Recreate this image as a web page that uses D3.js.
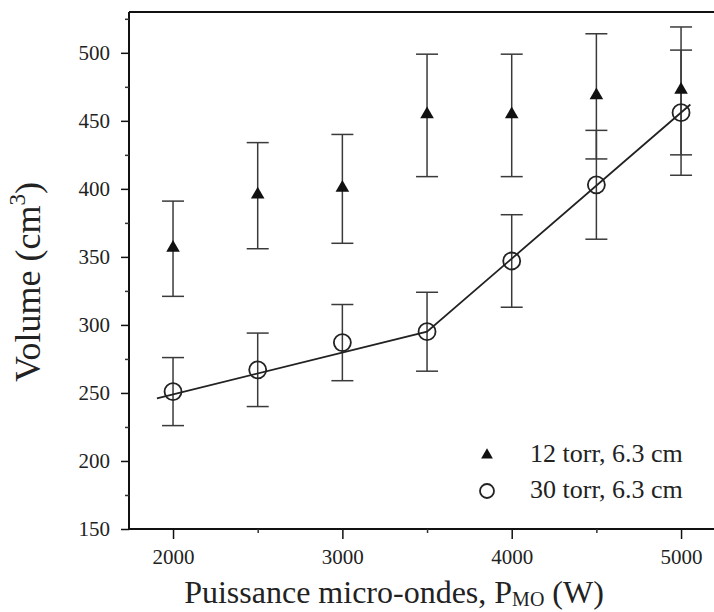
<!DOCTYPE html>
<html>
<head>
<meta charset="utf-8">
<script src="https://cdn.jsdelivr.net/npm/d3@7"></script>
<style>
  html, body { margin: 0; padding: 0; background: #fff; }
  svg text { font-family: "Liberation Serif", "Times New Roman", "DejaVu Serif", serif !important; }
</style>
</head>
<body>
<svg id="chart" width="714" height="612"></svg>
<script>
// ---- data ----
const powers = [2000, 2500, 3000, 3500, 4000, 4500, 5000];
const vol12 = [356, 395, 400, 454, 454, 468, 472];
const err12 = [35, 39, 40, 45, 45, 46, 47];
const vol30 = [251, 267, 287, 295, 347, 403, 456];
const err30 = [25, 27, 28, 29, 34, 40, 46];
const trendX = [1905, 3500, 5055];
const trendY = [246, 295, 462];
const xTicks = [2000, 3000, 4000, 5000];
const xMinor = [2500, 3500, 4500];
const yTicks = [150, 200, 250, 300, 350, 400, 450, 500];
const yMinor = [175, 225, 275, 325, 375, 425, 475, 525];
const legendLabels = ["12 torr, 6.3 cm", "30 torr, 6.3 cm"];

const svg = d3.select("#chart");
const mLeft = 129, mBottom = 529, mTop = 12, mRight = 720;
const x = d3.scaleLinear().domain([1740, 5230]).range([mLeft, mRight]);
const y = d3.scaleLinear().domain([150, 530]).range([mBottom, mTop]);

// top frame line
svg.append("line").attr("x1", mLeft).attr("x2", 714).attr("y1", mTop).attr("y2", mTop)
  .attr("stroke", "#111").attr("stroke-width", 2);

// y axis
const yAxis = svg.append("g").attr("transform", `translate(${mLeft},0)`)
  .call(d3.axisLeft(y).tickValues(yTicks).tickSize(8).tickPadding(11).tickFormat(d3.format("d")));
yAxis.select(".domain").attr("stroke", "#111").attr("stroke-width", 2).attr("d", `M0,${mBottom}V${mTop}`);
yAxis.selectAll(".tick line").attr("stroke", "#111").attr("stroke-width", 1.5);
yAxis.selectAll(".tick text").attr("font-size", 21).attr("fill", "#222");
svg.append("g").attr("transform", `translate(${mLeft},0)`)
  .call(d3.axisLeft(y).tickValues(yMinor).tickSize(4).tickFormat(""))
  .call(g => g.select(".domain").remove())
  .selectAll(".tick line").attr("stroke", "#333").attr("stroke-width", 1.5);

// x axis
const xAxis = svg.append("g").attr("transform", `translate(0,${mBottom})`)
  .call(d3.axisBottom(x).tickValues(xTicks).tickSize(10).tickPadding(10).tickFormat(d3.format("d")));
xAxis.select(".domain").attr("stroke", "#111").attr("stroke-width", 2).attr("d", `M${mLeft},0H714`);
xAxis.selectAll(".tick line").attr("stroke", "#111").attr("stroke-width", 1.5);
xAxis.selectAll(".tick text").attr("font-size", 21).attr("fill", "#222");
svg.append("g").attr("transform", `translate(0,${mBottom})`)
  .call(d3.axisBottom(x).tickValues(xMinor).tickSize(4).tickFormat(""))
  .call(g => g.select(".domain").remove())
  .selectAll(".tick line").attr("stroke", "#333").attr("stroke-width", 1.5);

// axis titles
const xt = svg.append("text").attr("x", 394).attr("y", 603).attr("text-anchor", "middle")
  .attr("font-size", 32).attr("fill", "#222");
xt.append("tspan").text("Puissance micro-ondes, P");
xt.append("tspan").attr("font-size", 20).attr("dy", 3).text("MO");
xt.append("tspan").attr("dy", -3).text(" (W)");

const yt = svg.append("text").attr("transform", "translate(40,282) rotate(-90)")
  .attr("text-anchor", "middle").attr("font-size", 36).attr("fill", "#222");
yt.append("tspan").text("Volume (cm");
yt.append("tspan").attr("font-size", 23).attr("dy", -15).text("3");
yt.append("tspan").attr("dy", 15).text(")");

// error bars
function errorBars(vals, errs, color) {
  const g = svg.append("g").attr("stroke", color).attr("stroke-width", 1.5).attr("fill", "none");
  powers.forEach((p, i) => {
    const cx = x(p), y1 = y(vals[i] + errs[i]), y0 = y(vals[i] - errs[i]);
    g.append("line").attr("x1", cx).attr("x2", cx).attr("y1", y1).attr("y2", y0);
    g.append("line").attr("x1", cx - 11).attr("x2", cx + 11).attr("y1", y1).attr("y2", y1);
    g.append("line").attr("x1", cx - 11).attr("x2", cx + 11).attr("y1", y0).attr("y2", y0);
  });
}
errorBars(vol12, err12, "#3a3a3a");
errorBars(vol30, err30, "#3a3a3a");

// trend line
svg.append("path")
  .datum(trendX.map((d, i) => [d, trendY[i]]))
  .attr("d", d3.line().x(d => x(d[0])).y(d => y(d[1])))
  .attr("fill", "none").attr("stroke", "#222").attr("stroke-width", 1.8);

// markers
const tri = d3.symbol().type(d3.symbolTriangle).size(80);
svg.append("g").selectAll("path").data(powers).join("path")
  .attr("d", tri)
  .attr("transform", (d, i) => `translate(${x(d)},${y(vol12[i]) - 1})`)
  .attr("fill", "#111");
svg.append("g").selectAll("circle").data(powers).join("circle")
  .attr("cx", d => x(d)).attr("cy", (d, i) => y(vol30[i]))
  .attr("r", 8.5).attr("fill", "none").attr("stroke", "#222").attr("stroke-width", 1.8);

// legend
const lg = svg.append("g");
lg.append("path").attr("d", d3.symbol().type(d3.symbolTriangle).size(60))
  .attr("transform", "translate(487,455)").attr("fill", "#111");
lg.append("circle").attr("cx", 487).attr("cy", 491).attr("r", 7)
  .attr("fill", "none").attr("stroke", "#222").attr("stroke-width", 1.8);
lg.selectAll("text").data(legendLabels).join("text")
  .attr("x", 530).attr("y", (d, i) => 462 + i * 36)
  .attr("font-size", 26).attr("fill", "#222").text(d => d);
</script>
</body>
</html>
